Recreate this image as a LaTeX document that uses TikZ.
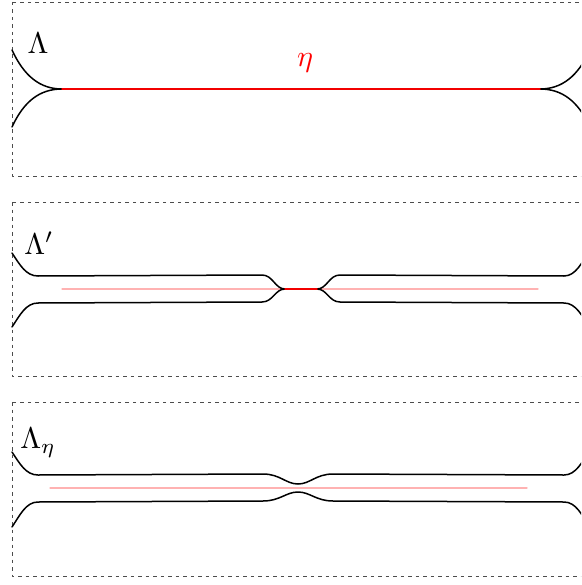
\documentclass[tikz,border=0pt]{standalone}
\begin{document}
\begin{tikzpicture}[x=1pt,y=-1pt,line join=round,line cap=round]
\tikzset{
  frame/.style={draw=black!70,line cap=butt,dash pattern=on 3.5pt off 4pt,line width=0.7pt},
  strand/.style={draw=black,line width=1.5pt},
  chord/.style={draw=red!95!black,line width=1.5pt},
  ghost/.style={draw=red!30,line width=1.3pt},
  lbl/.style={scale=3,inner sep=0pt}
}
\useasboundingbox (0,0) rectangle (581,585);
\clip (0,0) rectangle (581,585);
% frames
\draw[frame] (12,2) rectangle (590,176);
\draw[frame] (12,202) rectangle (590,376);
\draw[frame] (12,402) rectangle (590,576);
% panel 1
\draw[strand] (12,50) .. controls (24,76) and (40,89) .. (62,89);
\draw[strand] (12,127) .. controls (24,101) and (40,89) .. (62,89);
\draw[strand] (540,89) .. controls (562,89) and (578,76) .. (590,50);
\draw[strand] (540,89) .. controls (562,89) and (578,101) .. (590,127);
\draw[chord] (62,89) -- (540,89);
\node[lbl] (L1) at (38,43) {$\Lambda$};
\node[lbl,text=red] (eta) at (305,63) {$\eta$};
% panel 2
\draw[ghost] (62,289) -- (538,289);
\draw[strand] (12,253) .. controls (20,265) and (26,276) .. (38,276) -- (262,275) .. controls (273,275) and (275,289) .. (285,289);
\draw[strand] (12,327) .. controls (20,315) and (26,303) .. (38,303) -- (262,302) .. controls (273,302) and (275,289) .. (285,289);
\draw[strand] (317,289) .. controls (327,289) and (329,275) .. (340,275) -- (564,276) .. controls (576,276) and (582,262) .. (590,250);
\draw[strand] (317,289) .. controls (327,289) and (329,302) .. (340,302) -- (564,303) .. controls (576,303) and (582,316) .. (590,328);
\draw[chord] (285,289) -- (317,289);
\node[lbl] (L2) at (39,243) {$\Lambda'$};
% panel 3
\draw[ghost] (50,488) -- (527,488);
\draw[strand] (12,452) .. controls (20,464) and (26,475) .. (38,475) -- (263,474) .. controls (280,474) and (286,484) .. (298,484) .. controls (310,484) and (316,474) .. (333,474) -- (564,475) .. controls (576,475) and (582,462) .. (590,450);
\draw[strand] (12,527) .. controls (20,515) and (26,502) .. (38,502) -- (263,501) .. controls (280,501) and (286,492) .. (298,492) .. controls (310,492) and (316,501) .. (333,501) -- (564,502) .. controls (576,502) and (582,515) .. (590,528);
\node[lbl] (L3) at (38,443) {$\Lambda_\eta$};
\end{tikzpicture}
\end{document}
